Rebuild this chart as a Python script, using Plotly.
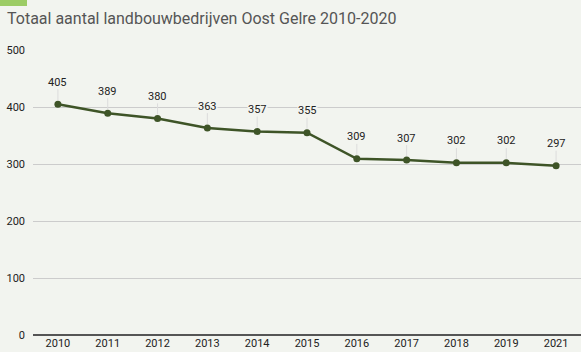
import plotly.graph_objects as go

# Number of farms per year in Oost Gelre
jaren = ["2010", "2011", "2012", "2013", "2014", "2015", "2016", "2017", "2018", "2019", "2021"]
bedrijven = [405, 389, 380, 363, 357, 355, 309, 307, 302, 302, 297]
y_ticks = [0, 100, 200, 300, 400, 500]

W, H = 581, 352
L, R, T, B = 33, 0, 50, 17
plot_w = W - L - R
plot_h = H - T - B

bg = "#f2f4ef"
line_color = "#3e5427"

fig = go.Figure()
fig.add_trace(go.Scatter(
    x=jaren, y=bedrijven, mode="lines+markers",
    line=dict(color=line_color, width=2.5),
    marker=dict(color=line_color, size=7),
    hoverinfo="x+y", showlegend=False,
))

# value labels with thin leader lines above each point
# (category axis: annotations are placed by category index)
for i, v in enumerate(bedrijven):
    fig.add_annotation(
        x=i, y=v, xref="x", yref="y", text=str(v), showarrow=True, arrowhead=0,
        arrowwidth=1, arrowcolor="#dcdcdc", ax=0, ay=-22, standoff=4,
        font=dict(family="Roboto", size=11, color="#222222"),
        bgcolor=bg, borderpad=0,
    )

# green tab in the top-left corner
fig.add_shape(
    type="rect", xref="paper", yref="paper",
    x0=-L / plot_w, x1=(27 - L) / plot_w,
    y0=1 + (T - 6) / plot_h, y1=1 + T / plot_h,
    line=dict(width=0), fillcolor="#9ccc65", layer="above",
)

fig.update_layout(
    width=W, height=H,
    margin=dict(l=L, r=R, t=T, b=B, pad=0),
    paper_bgcolor=bg, plot_bgcolor=bg,
    title=dict(
        text="Totaal aantal landbouwbedrijven Oost Gelre 2010-2020",
        x=7 / W, xanchor="left", y=1 - 18 / H, yanchor="middle",
        font=dict(family="Roboto", size=16, color="#555555"),
    ),
    font=dict(family="Roboto", size=11, color="#222222"),
    xaxis=dict(
        type="category", showgrid=False, showline=False, ticks="",
        tickfont=dict(size=11, color="#222222"), range=[-0.5, len(jaren) - 0.5],
        fixedrange=True,
    ),
    yaxis=dict(
        range=[0, 500], tickvals=y_ticks, showgrid=True, gridcolor="#cccccc",
        gridwidth=1, zeroline=True, zerolinecolor="#555555", zerolinewidth=2,
        showline=False, ticks="", ticklabelstandoff=7,
        tickfont=dict(size=11, color="#222222"), fixedrange=True,
    ),
)

fig.write_html("out.html")
